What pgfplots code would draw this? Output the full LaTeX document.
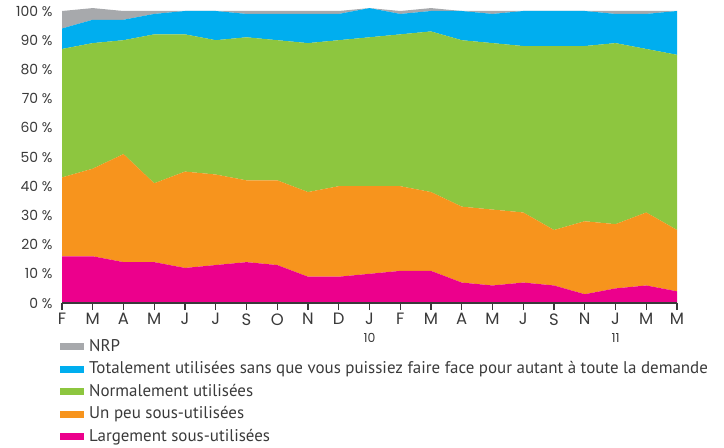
\documentclass[border=0pt]{standalone}
\usepackage{fontspec}
\setmainfont{PT Sans}
\newfontfamily\tickfont{Poppins}
\usepackage{pgfplots}
\usepackage{pgfplotstable}
\pgfplotsset{compat=1.18}
\definecolor{cnrp}{HTML}{A7A9AC}
\definecolor{cblue}{HTML}{00AEEF}
\definecolor{cgreen}{HTML}{8DC63F}
\definecolor{corange}{HTML}{F7941D}
\definecolor{cpink}{HTML}{EC008C}
\definecolor{caxis}{HTML}{3A3A3A}
\pgfplotstableread{
x p o g b n
0 16 27 44 7 6
1 16 30 43 8 4
2 14 37 39 7 3
3 14 27 51 7 1
4 12 33 47 8 0
5 13 31 46 10 0
6 14 28 49 8 1
7 13 29 48 9 1
8 9 29 51 10 1
9 9 31 50 9 1
10 10 30 51 10 0
11 11 29 52 7 1
12 11 27 55 7 1
13 7 26 57 10 0
14 6 26 57 10 1
15 7 24 57 12 0
16 6 19 63 12 0
17 3 25 60 12 0
18 5 22 62 10 1
19 6 25 56 12 1
20 4 21 60 15 0
}\data
\begin{document}
\begin{tikzpicture}
\useasboundingbox (-62bp,-145bp) rectangle (662bp,303bp);
\begin{axis}[
  at={(0,0)}, anchor=south west,
  scale only axis, width=615bp, height=292bp,
  xmin=0, xmax=20, ymin=0, ymax=100,
  clip=false, axis on top,
  stack plots=y, area style,
  axis lines=left,
  axis line style={-},
  x axis line style={draw=caxis, line width=1.2bp},
  y axis line style={draw=none},
  ytick={0,10,...,100},
  yticklabels={0 \%,10 \%,20 \%,30 \%,40 \%,50 \%,60 \%,70 \%,80 \%,90 \%,100 \%},
  ytick style={draw=none},
  xtick={0,...,20},
  xticklabels={F,M,A,M,J,J,S,O,N,D,{J\\\fontsize{12.5}{12.5}\selectfont 10},F,M,A,M,J,S,N,{J\\\fontsize{12.5}{12.5}\selectfont 11},M,M},
  xtick style={draw=caxis, line width=1.1bp},
  tick align=outside, major tick length=7bp,
  x tick label style={font=\tickfont\fontsize{16.5}{18}\selectfont, align=center, text=caxis},
  y tick label style={font=\tickfont\fontsize{14}{15}\selectfont, text=caxis, xshift=1bp},
  reverse legend,
  legend style={at={(0,0)}, anchor=north west, xshift=-2bp, yshift=-36bp,
    draw=none, fill=none, inner sep=0pt, row sep=7bp,
    font=\fontsize{17}{18}\selectfont,
    nodes={inner sep=0pt, inner xsep=5bp, text height=12bp, text depth=3.5bp, text=caxis},
    cells={anchor=west}},
  legend image code/.code={\fill[#1] (0bp,-3.5bp) rectangle (24bp,3.5bp);},
]
\addplot[fill=cpink, draw=none] table[x=x,y=p]{\data} \closedcycle;
\addlegendentry{Largement sous-utilisées}
\addplot[fill=corange, draw=none] table[x=x,y=o]{\data} \closedcycle;
\addlegendentry{Un peu sous-utilisées}
\addplot[fill=cgreen, draw=none] table[x=x,y=g]{\data} \closedcycle;
\addlegendentry{Normalement utilisées}
\addplot[fill=cblue, draw=none] table[x=x,y=b]{\data} \closedcycle;
\addlegendentry{Totalement utilisées sans que vous puissiez faire face pour autant à toute la demande}
\addplot[fill=cnrp, draw=none] table[x=x,y=n]{\data} \closedcycle;
\addlegendentry{NRP}
\end{axis}
\end{tikzpicture}
\end{document}
